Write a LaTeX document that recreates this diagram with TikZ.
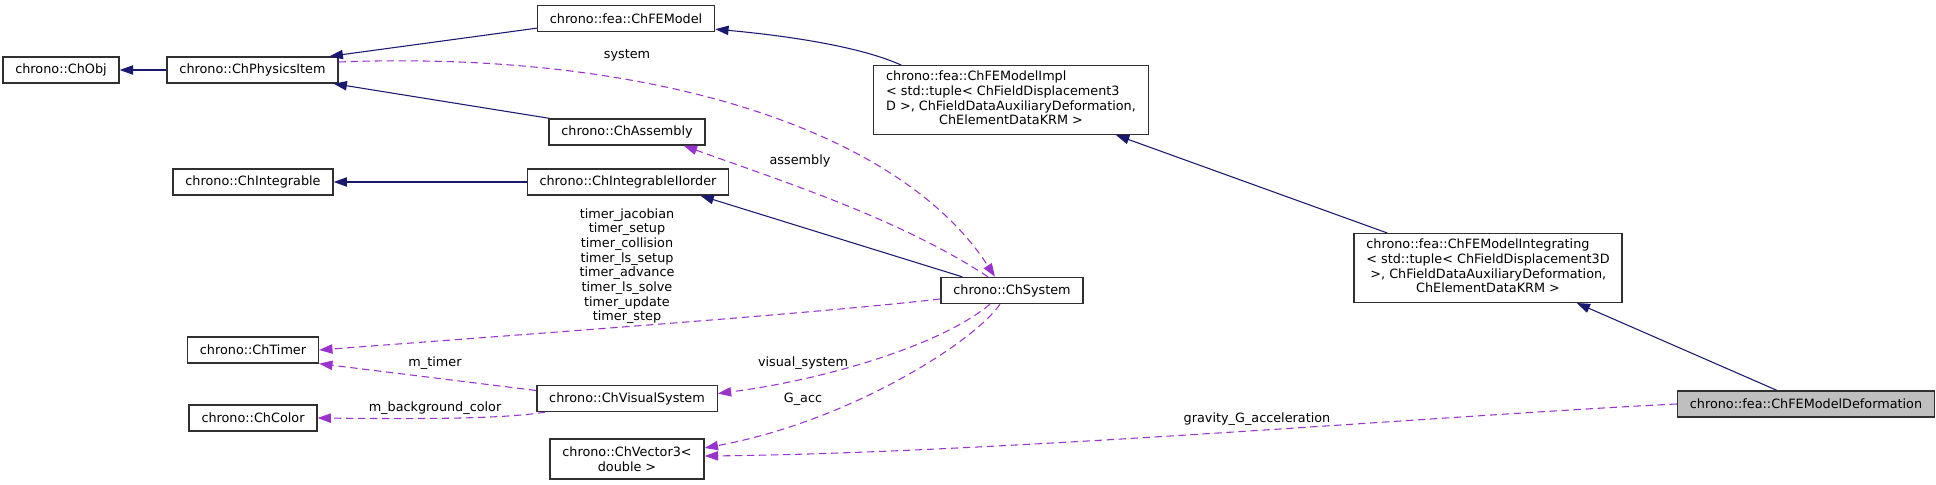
\documentclass[tikz,border=0pt]{standalone}
\usepackage{fontspec}
\setmainfont{DejaVu Sans}
\usetikzlibrary{arrows.meta,calc}
\definecolor{navy}{HTML}{191970}
\definecolor{orchid}{HTML}{9A32CD}
\definecolor{boxline}{HTML}{303030}
\definecolor{rootfill}{HTML}{BFBFBF}
\begin{document}
\begin{tikzpicture}[x=0.75pt,y=-0.75pt,
  font=\fontsize{9.6pt}{11pt}\selectfont,
  cls/.style={draw=boxline, line width=1pt, fill=white, inner xsep=9.3pt, inner ysep=3.75pt, minimum height=19.5pt},
  inh/.style={draw=navy, line width=0.8pt, -{Triangle[length=10pt,width=7pt]}},
  use/.style={draw=orchid, line width=0.8pt, dash pattern=on 5.5pt off 3.5pt, -{Triangle[length=10pt,width=7pt]}},
  lbl/.style={inner sep=0pt, align=center}
]
\useasboundingbox (0,0) rectangle (1936,485);
% nodes
\node[cls] (obj) at (61,70) {chrono::ChObj};
\node[cls] (phys) at (252.5,70) {chrono::ChPhysicsItem};
\node[cls] (fem) at (626,18.5) {chrono::fea::ChFEModel};
\node[cls] (asm) at (627,132) {chrono::ChAssembly};
\node[cls] (integ) at (253,182) {chrono::ChIntegrable};
\node[cls] (iiorder) at (628,182) {chrono::ChIntegrableIIorder};
\node[cls] (fimpl) at (1011,100) {\begin{tabular}{@{}l@{}}chrono::fea::ChFEModelImpl\\< std::tuple< ChFieldDisplacement3\\D >, ChFieldDataAuxiliaryDeformation,\\\multicolumn{1}{@{}c@{}}{ChElementDataKRM >}\end{tabular}};
\node[cls] (fint) at (1488,268) {\begin{tabular}{@{}l@{}}chrono::fea::ChFEModelIntegrating\\< std::tuple< ChFieldDisplacement3D\\\ >, ChFieldDataAuxiliaryDeformation,\\\multicolumn{1}{@{}c@{}}{ChElementDataKRM >}\end{tabular}};
\node[cls, fill=rootfill] (fdef) at (1806,404) {chrono::fea::ChFEModelDeformation};
\node[cls] (sys) at (1012,290.5) {chrono::ChSystem};
\node[cls] (timer) at (253,350) {chrono::ChTimer};
\node[cls] (color) at (253,418) {chrono::ChColor};
\node[cls] (vis) at (627,398.5) {chrono::ChVisualSystem};
\node[cls, align=center, minimum height=30pt] (vec) at (627,459) {chrono::ChVector3<\\double >};
% inheritance
\draw[inh] (phys.west) -- (obj.east);
\draw[inh] ($(fem.south west)+(0,-4)$) -- ($(phys.north east)+(-9,0)$);
\draw[inh] ($(asm.north west)+(1,0)$) -- ($(phys.south east)+(-5,0)$);
\draw[inh] (iiorder.west) -- (integ.east);
\draw[inh] ($(sys.north west)+(22,0)$) -- ($(iiorder.south east)+(-29,0)$);
\draw[inh] ($(fimpl.north west)+(28,0)$) .. controls +(-40,-18) and +(76,7) .. ($(fem.south east)+(0,-3)$);
\draw[inh] ($(fint.north west)+(34,0)$) -- ($(fimpl.south east)+(-33,0)$);
\draw[inh] ($(fdef.north west)+(100,0)$) -- ($(fint.south east)+(-46,0)$);
% usage
\draw[use] ($(phys.east)+(0,-8)$) .. controls +(312,-12) and +(-95,-147) .. ($(sys.north)+(-17,0)$);
\node[lbl] (lsys) at (627,55) {system};
\draw[use] ($(sys.north)+(-24,0)$) .. controls +(-88,-58) and +(97,35) .. ($(asm.south east)+(-22,0)$);
\node[lbl] (lasm) at (800,161) {assembly};
\draw[use] ($(sys.west)+(0,8.5)$) .. controls +(-141,16) and +(182,-14) .. (timer.east);
\node[lbl] (ltimer) at (627,266) {timer\_jacobian\\timer\_setup\\timer\_collision\\timer\_ls\_setup\\timer\_advance\\timer\_ls\_solve\\timer\_update\\timer\_step};
\draw[use] ($(vis.west)+(0,-8)$) -- (timer.south east);
\node[lbl] (lmt) at (435,363) {m\_timer};
\draw[use] ($(vis.south west)+(9,0)$) .. controls +(-45,7) and +(104,1) .. (color.east);
\node[lbl] (lbg) at (435,408) {m\_background\_color};
\draw[use] ($(sys.south)+(-22,0)$) .. controls +(-50,42) and +(103,-13) .. ($(vis.east)+(0,-5)$);
\node[lbl] (lvis) at (803,363) {visual\_system};
\draw[use] ($(sys.south)+(-12,0)$) .. controls +(-25,37) and +(146,-27) .. ($(vec.east)+(0,-11)$);
\node[lbl] (lg) at (803,399) {G\_acc};
\draw[use] (fdef.west) .. controls +(-227,11) and +(296,-3) .. ($(vec.east)+(0,-3)$);
\node[lbl] (lgrav) at (1257,419) {gravity\_G\_acceleration};
\end{tikzpicture}
\end{document}
